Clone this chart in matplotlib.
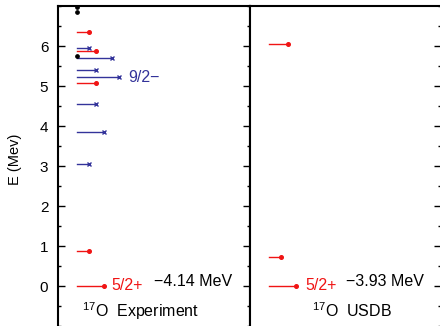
import numpy as np
import matplotlib
matplotlib.use("Agg")
import matplotlib.pyplot as plt
from matplotlib.ticker import MultipleLocator

plt.rcParams['font.family'] = ['Liberation Sans', 'DejaVu Sans']
plt.rcParams['mathtext.fontset'] = 'custom'
plt.rcParams['mathtext.rm'] = 'Liberation Sans'
plt.rcParams['mathtext.default'] = 'rm'

# 17O experimental levels: energy (MeV), spin J, parity ('?' = unassigned)
exp_E = [0.00, 0.87, 3.05, 3.85, 4.56, 5.08, 5.22, 5.39, 5.70, 5.74, 5.88, 5.95, 6.36, 6.86, 6.97]
exp_J = [2.5, 0.5, 0.5, 2.5, 1.5, 1.5, 4.5, 1.5, 3.5, np.nan, 1.5, 0.5, 0.5, np.nan, np.nan]
exp_P = ['+', '+', '-', '-', '-', '+', '-', '-', '-', '?', '+', '-', '+', '?', '?']

# USDB shell-model levels
usdb_E = [0.00, 0.72, 6.05]
usdb_J = [2.5, 0.5, 1.5]
usdb_P = ['+', '+', '+']

RED = '#f01414'
BLUE = '#33339a'
X0 = 0.10      # where the level lines start
SCALE = 0.04   # line length per (J+1)
FS = 11.5


def draw_levels(ax, E, J, P):
    for e, j, p in zip(E, J, P):
        if p == '?':
            ax.plot([X0], [e], 'o', color='black', ms=2.4, zorder=3)
            continue
        x1 = X0 + SCALE * (j + 1)
        if p == '+':
            ax.plot([X0, x1], [e, e], color=RED, lw=1.0)
            ax.plot([x1], [e], 'o', color=RED, ms=2.6)
        else:
            ax.plot([X0, x1], [e, e], color=BLUE, lw=1.0)
            ax.plot([x1], [e], 'x', color=BLUE, ms=3.0, mew=1.0)


fig = plt.figure(figsize=(4.4, 3.26), dpi=100)
ax1 = fig.add_axes([58 / 440, 0, 192 / 440, 320 / 326])
ax2 = fig.add_axes([250 / 440, 0, 191 / 440, 320 / 326])

for ax in (ax1, ax2):
    ax.set_xlim(0, 1)
    ax.set_ylim(-1, 7)
    ax.set_xticks([])
    ax.set_yticks(range(0, 7))
    ax.yaxis.set_minor_locator(MultipleLocator(0.5))
    ax.spines['bottom'].set_visible(False)
    for s in ax.spines.values():
        s.set_linewidth(1.5)
    ax.tick_params(axis='y', which='both', direction='in', width=1.0, labelsize=11, pad=7)
    ax.tick_params(axis='y', which='major', length=5)
    ax.tick_params(axis='y', which='minor', length=2.5)

ax1.tick_params(axis='y', which='both', left=True, right=True)
ax2.tick_params(axis='y', which='both', left=False, right=True, labelleft=False)
ax2.spines['right'].set_visible(False)

draw_levels(ax1, exp_E, exp_J, exp_P)
draw_levels(ax2, usdb_E, usdb_J, usdb_P)

ax1.set_ylabel('E (Mev)', fontsize=10.5)
ax1.yaxis.set_label_coords(-0.19, 0.52)

ax1.text(0.28, 0.0, '5/2+', color=RED, fontsize=FS, va='center')
ax1.text(0.50, 0.12, '\u22124.14 MeV', color='black', fontsize=FS, va='center')
ax1.text(0.365, 5.22, '9/2\u2212', color=BLUE, fontsize=FS, va='center')
ax1.text(0.125, -0.62, '$^{17}$O  Experiment', color='black', fontsize=FS, va='center')

ax2.text(0.29, 0.0, '5/2+', color=RED, fontsize=FS, va='center')
ax2.text(0.505, 0.12, '\u22123.93 MeV', color='black', fontsize=FS, va='center')
ax2.text(0.326, -0.62, '$^{17}$O  USDB', color='black', fontsize=FS, va='center')

fig.savefig('out.png', dpi=100)
